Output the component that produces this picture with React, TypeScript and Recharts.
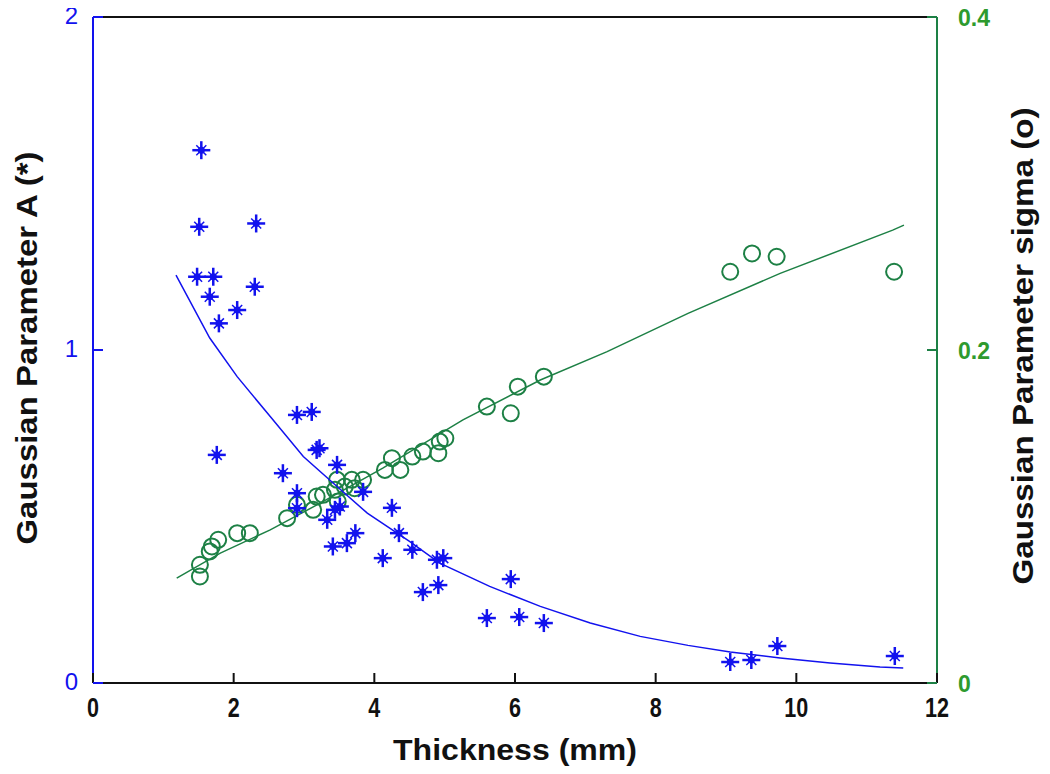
import { ComposedChart, Label, ReferenceLine, Scatter, XAxis, YAxis } from 'recharts';

// thickness (mm) / amplitude A for the star markers
const starX = [
	1.54, 1.51, 2.32, 1.48, 1.71, 1.66, 2.3, 2.05, 1.79, 1.76, 2.9, 3.11, 3.18, 3.22, 3.47, 2.7, 2.9, 2.9, 3.84, 4.25,
	3.51, 3.44, 3.33, 3.73, 3.61, 3.41, 4.35, 4.12, 4.54, 4.89, 4.98, 4.69, 4.91, 5.94, 5.6, 6.06, 6.41, 9.06, 9.36,
	9.73, 11.4,
];
const starA = [
	1.6, 1.37, 1.38, 1.22, 1.22, 1.16, 1.19, 1.12, 1.08, 0.685, 0.805, 0.814, 0.7, 0.705, 0.655, 0.63, 0.57, 0.525, 0.574,
	0.526, 0.53, 0.52, 0.49, 0.45, 0.42, 0.41, 0.45, 0.375, 0.4, 0.37, 0.375, 0.273, 0.294, 0.312, 0.195, 0.198, 0.18,
	0.063, 0.069, 0.111, 0.081,
];

// thickness (mm) / sigma for the circle markers
const circleX = [
	11.39, 9.72, 9.37, 9.06, 6.41, 6.04, 5.94, 5.6, 5.01, 4.93, 4.91, 4.69, 4.54, 4.25, 4.15, 4.37, 3.84, 3.68, 3.47,
	3.58, 3.44, 3.27, 3.18, 3.48, 3.13, 3.72, 2.9, 2.76, 2.23, 2.05, 1.78, 1.69, 1.66, 1.52, 1.52,
];
const circleSigma = [
	0.247, 0.256, 0.258, 0.247, 0.184, 0.178, 0.162, 0.166, 0.147, 0.145, 0.138, 0.139, 0.136, 0.135, 0.128, 0.128, 0.122,
	0.122, 0.122, 0.118, 0.116, 0.113, 0.112, 0.109, 0.104, 0.117, 0.107, 0.099, 0.09, 0.09, 0.086, 0.082, 0.079, 0.071,
	0.064,
];

// fitted curves
const fitAX = [
	1.18, 1.66, 2.05, 2.52, 2.99, 3.47, 3.9, 4.5, 4.93, 5.64, 6.36, 7.07, 7.78, 8.46, 9.06, 9.77, 10.48, 11.19, 11.52,
];
const fitA = [
	1.225, 1.036, 0.92, 0.8, 0.68, 0.59, 0.51, 0.425, 0.36, 0.29, 0.23, 0.18, 0.14, 0.113, 0.093, 0.075, 0.06, 0.048,
	0.045,
];
const fitSX = [1.19, 1.81, 2.52, 3.23, 4.12, 5.26, 6.36, 7.31, 8.46, 9.77, 11.37, 11.53];
const fitSigma = [0.063, 0.078, 0.092, 0.108, 0.129, 0.158, 0.182, 0.199, 0.222, 0.246, 0.272, 0.275];

const xTicks = [0, 2, 4, 6, 8, 10, 12];
const aTicks = [0, 1, 2];
const sigmaTicks = [0, 0.2, 0.4];

const stars = starX.map((x, i) => ({ x, a: starA[i] }));
const circles = circleX.map((x, i) => ({ x, s: circleSigma[i] }));
const fitALine = fitAX.map((x, i) => ({ x, a: fitA[i] }));
const fitSLine = fitSX.map((x, i) => ({ x, s: fitSigma[i] }));

const BLUE = '#1212ee';
const GREEN = '#1d8045';
const GREEN_TXT = '#2e9a2e';
const FONT = 'Liberation Sans, Arial, sans-serif';

const StarShape = (props: any) => {
	const { cx, cy } = props;
	return (
		<g stroke={BLUE} fill={BLUE}>
			<line x1={cx - 9} y1={cy} x2={cx + 9} y2={cy} strokeWidth={2.5} />
			<line x1={cx} y1={cy - 9} x2={cx} y2={cy + 9} strokeWidth={2.5} />
			<line x1={cx - 5} y1={cy - 5} x2={cx + 5} y2={cy + 5} strokeWidth={1.5} />
			<line x1={cx - 5} y1={cy + 5} x2={cx + 5} y2={cy - 5} strokeWidth={1.5} />
			<circle cx={cx} cy={cy} r={3.5} stroke='none' />
		</g>
	);
};

const CircleShape = (props: any) => {
	const { cx, cy } = props;
	return <circle cx={cx} cy={cy} r={8} fill='none' stroke={GREEN} strokeWidth={2} />;
};

const NoShape = () => <g />;

const XTick = (props: any) => {
	const { x, y, payload } = props;
	const label = String(payload.value);
	return (
		<g>
			<line x1={x} y1={y} x2={x} y2={y - 10} stroke='#111' strokeWidth={2} />
			<text
				x={x}
				y={y + 34}
				textAnchor='middle'
				fontFamily={FONT}
				fontWeight='bold'
				fontSize={27}
				fill='#111'
				textLength={label.length * 12}
				lengthAdjust='spacingAndGlyphs'
			>
				{label}
			</text>
		</g>
	);
};

const LeftTick = (props: any) => {
	const { x, y, payload } = props;
	return (
		<g>
			<line x1={x} y1={y} x2={x + 10} y2={y} stroke={BLUE} strokeWidth={2} />
			<text x={x - 15} y={y + 7} textAnchor='end' fontFamily={FONT} fontSize={24} fill={BLUE}>
				{payload.value}
			</text>
		</g>
	);
};

const RightTick = (props: any) => {
	const { x, y, payload } = props;
	return (
		<g>
			<line x1={x} y1={y} x2={x - 10} y2={y} stroke={GREEN} strokeWidth={2} />
			<text x={x + 21} y={y + 9} textAnchor='start' fontFamily={FONT} fontWeight='bold' fontSize={23} fill={GREEN_TXT}>
				{payload.value}
			</text>
		</g>
	);
};

const XTitle = (props: any) => {
	const { x, y, width } = props.viewBox;
	return (
		<text
			x={x + width / 2}
			y={y + 77}
			textAnchor='middle'
			fontFamily={FONT}
			fontWeight='bold'
			fontSize={30}
			fill='#111'
			textLength={244}
			lengthAdjust='spacingAndGlyphs'
		>
			Thickness (mm)
		</text>
	);
};

const LeftTitle = (props: any) => {
	const { x, y, height } = props.viewBox;
	const cx = x + 26;
	const cy = y + height / 2 - 2;
	return (
		<text
			x={cx}
			y={cy}
			transform={`rotate(-90 ${cx} ${cy})`}
			textAnchor='middle'
			dominantBaseline='central'
			fontFamily={FONT}
			fontWeight='bold'
			fontSize={30}
			fill='#111'
			textLength={393}
			lengthAdjust='spacingAndGlyphs'
		>
			Gaussian Parameter A (*)
		</text>
	);
};

const RightTitle = (props: any) => {
	const { x, y, height } = props.viewBox;
	const cx = x + 85;
	const cy = y + height / 2 - 4;
	return (
		<text
			x={cx}
			y={cy}
			transform={`rotate(-90 ${cx} ${cy})`}
			textAnchor='middle'
			dominantBaseline='central'
			fontFamily={FONT}
			fontWeight='bold'
			fontSize={30}
			fill='#111'
			textLength={477}
			lengthAdjust='spacingAndGlyphs'
		>
			Gaussian Parameter sigma (o)
		</text>
	);
};

const App = () => {
	return (
		<div style={{ width: 1050, height: 774, margin: -8, background: '#fff' }}>
			<ComposedChart width={1050} height={774} margin={{ top: 17, right: 0, bottom: 0, left: 0 }}>
				<XAxis
					type='number'
					dataKey='x'
					domain={[0, 12]}
					ticks={xTicks}
					allowDataOverflow
					height={91}
					axisLine={{ stroke: '#111', strokeWidth: 2 }}
					tickLine={false}
					tickSize={0}
					tickMargin={0}
					tick={<XTick />}
				>
					<Label content={<XTitle />} />
				</XAxis>
				<YAxis
					yAxisId='left'
					type='number'
					domain={[0, 2]}
					ticks={aTicks}
					allowDataOverflow
					width={93}
					axisLine={{ stroke: BLUE, strokeWidth: 2 }}
					tickLine={false}
					tickSize={0}
					tickMargin={0}
					tick={<LeftTick />}
				>
					<Label content={<LeftTitle />} />
				</YAxis>
				<YAxis
					yAxisId='right'
					orientation='right'
					type='number'
					domain={[0, 0.4]}
					ticks={sigmaTicks}
					allowDataOverflow
					width={113}
					axisLine={{ stroke: GREEN, strokeWidth: 2 }}
					tickLine={false}
					tickSize={0}
					tickMargin={0}
					tick={<RightTick />}
				>
					<Label content={<RightTitle />} />
				</YAxis>
				<ReferenceLine yAxisId='left' y={2} stroke='#111' strokeWidth={2} />
				<Scatter
					yAxisId='right'
					data={fitSLine}
					dataKey='s'
					line={{ stroke: GREEN, strokeWidth: 1.5 }}
					shape={<NoShape />}
					isAnimationActive={false}
				/>
				<Scatter yAxisId='right' data={circles} dataKey='s' shape={<CircleShape />} isAnimationActive={false} />
				<Scatter
					yAxisId='left'
					data={fitALine}
					dataKey='a'
					line={{ stroke: BLUE, strokeWidth: 1.5 }}
					shape={<NoShape />}
					isAnimationActive={false}
				/>
				<Scatter yAxisId='left' data={stars} dataKey='a' shape={<StarShape />} isAnimationActive={false} />
			</ComposedChart>
		</div>
	);
};

export default App;
